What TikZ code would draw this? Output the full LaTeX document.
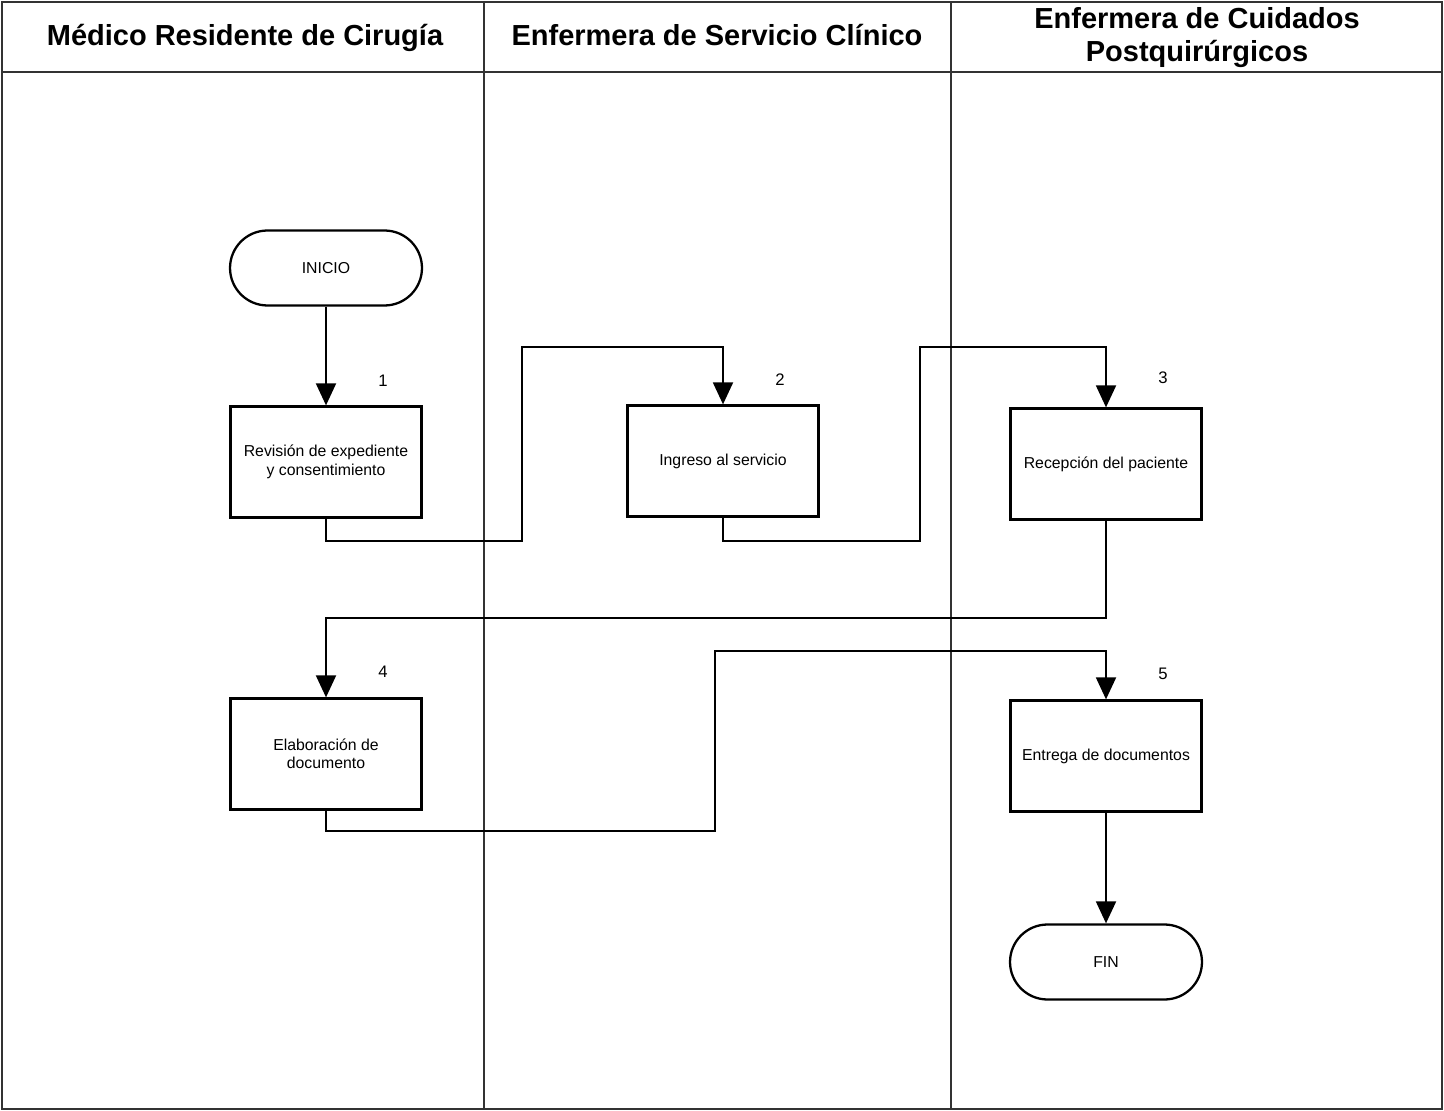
\documentclass[tikz,border=0pt]{standalone}
\usepackage{fontspec}
\setmainfont{Liberation Sans}
\usetikzlibrary{arrows.meta,positioning}

\begin{document}
\begin{tikzpicture}[x=0.02cm,y=-0.02cm,
  lane/.style={draw=black!80,line width=0.6pt},
  head/.style={font=\fontsize{16.5}{18.8}\selectfont\bfseries,align=center},
  proc/.style={draw,line width=1.3pt,minimum width=3.82cm,minimum height=2.22cm,align=center,font=\fontsize{9}{10.5}\selectfont},
  term/.style={draw,line width=1.3pt,rounded corners=0.75cm,minimum width=3.84cm,minimum height=1.5cm,font=\fontsize{9}{10.5}\selectfont},
  num/.style={font=\fontsize{9.5}{11}\selectfont},
  arr/.style={-{Triangle[length=4.4mm,width=4mm]},line width=1.1pt}
]
\useasboundingbox (0,0) rectangle (1444,1111);
% frame and lanes
\draw[lane] (2,2) rectangle (1442,1109);
\draw[lane] (2,72) -- (1442,72);
\draw[lane] (484,2) -- (484,1109);
\draw[lane] (951,2) -- (951,1109);
\node[head,anchor=base] (h1) at (245,46) {Médico Residente de Cirugía};
\node[head,anchor=base] (h2) at (717,46) {Enfermera de Servicio Clínico};
\node[head] (h3) at (1197,38) {Enfermera de Cuidados\\Postquirúrgicos};
% steps
\node[term] (ini) at (326,268) {INICIO};
\node[proc] (b1) at (326,462) {Revisión de expediente\\y consentimiento};
\node[proc] (b2) at (723,461) {Ingreso al servicio};
\node[proc] (b3) at (1106,464) {Recepción del paciente};
\node[proc] (b4) at (326,754) {Elaboración de\\documento};
\node[proc] (b5) at (1106,756) {Entrega de documentos};
\node[term] (fin) at (1106,962) {FIN};
\node[num] (n1) at (383,381) {1};
\node[num] (n2) at (780,380) {2};
\node[num] (n3) at (1163,378) {3};
\node[num] (n4) at (383,672) {4};
\node[num] (n5) at (1163,674) {5};
% flow
\draw[arr] (ini) -- (b1);
\draw[arr] (b1.south) |- (522,541) -- (522,347) -| (b2.north);
\draw[arr] (b2.south) |- (920,541) -- (920,347) -| (b3.north);
\draw[arr] (b3.south) |- (326,618) -- (b4.north);
\draw[arr] (b4.south) |- (715,831) -- (715,651) -| (b5.north);
\draw[arr] (b5) -- (fin);
\end{tikzpicture}
\end{document}
